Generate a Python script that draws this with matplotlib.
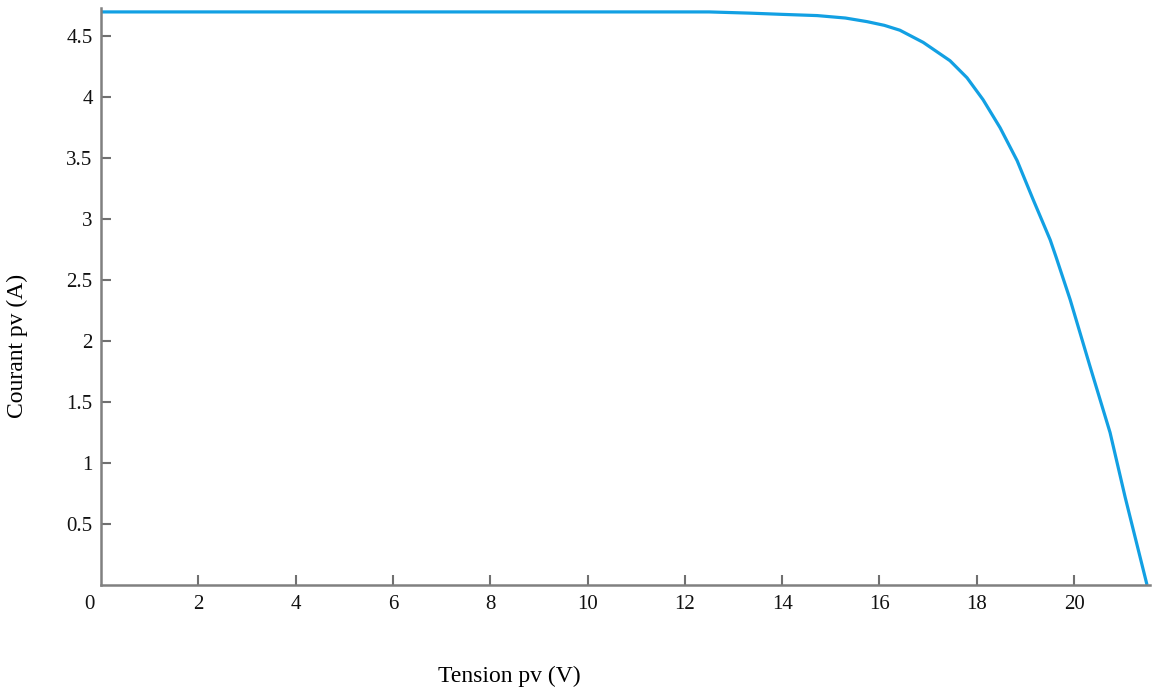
import matplotlib
matplotlib.use('Agg')
import matplotlib.pyplot as plt
import numpy as np

# I-V curve
tension = [0.0, 2.0, 4.0, 6.0, 8.0, 10.0, 11.3, 12.5, 13.34, 14.0, 14.72, 15.3, 15.75,
           16.1, 16.42, 16.9, 17.45, 17.8, 18.13, 18.48, 18.83, 19.16, 19.51, 19.63,
           19.92, 20.33, 20.74, 21.05, 21.5]
courant = [4.70, 4.70, 4.70, 4.70, 4.70, 4.70, 4.70, 4.70, 4.69, 4.68, 4.67, 4.65, 4.62,
           4.59, 4.55, 4.45, 4.30, 4.16, 3.98, 3.75, 3.48, 3.16, 2.83, 2.69,
           2.34, 1.79, 1.25, 0.72, 0.0]

xticks = [2, 4, 6, 8, 10, 12, 14, 16, 18, 20]
yticks = [0.5, 1, 1.5, 2, 2.5, 3, 3.5, 4, 4.5]
ylabels = ['0.5', '1', '1.5', '2', '2.5', '3', '3.5', '4', '4.5']

plt.rcParams['font.family'] = ['Liberation Serif', 'DejaVu Serif']

fig = plt.figure(figsize=(11.54, 6.89), dpi=100)
ax = fig.add_axes([0.0875, 0.151, 0.909, 0.837])

ax.plot(tension, courant, color='#12a0e3', linewidth=2.3, solid_capstyle='butt')
ax.set_xlim(0, 21.56)
ax.set_ylim(0, 4.73)

ax.set_xticks(xticks)
ax.set_xticklabels([str(t) for t in xticks])
ax.set_yticks(yticks)
ax.set_yticklabels(ylabels)
ax.tick_params(direction='in', length=7, width=1.5, color='#707070',
               labelsize=15, labelcolor='#111111')
ax.tick_params(axis='x', pad=7)
ax.tick_params(axis='y', pad=6)

for s in ['top', 'right']:
    ax.spines[s].set_visible(False)
for s in ['left', 'bottom']:
    ax.spines[s].set_color('#808080')
    ax.spines[s].set_linewidth(1.8)

# corner zero label
ax.annotate('0', xy=(0, 0), xycoords='axes fraction', xytext=(-8, -14),
            textcoords='offset points', ha='center', va='center', fontsize=15,
            color='#111111')

fig.text(0.441, 0.018, 'Tension pv (V)', fontsize=17, ha='center', va='center')
fig.text(0.015, 0.498, 'Courant pv (A)', fontsize=17, ha='center', va='center',
         rotation=90)

fig.savefig('out.png', dpi=100)
